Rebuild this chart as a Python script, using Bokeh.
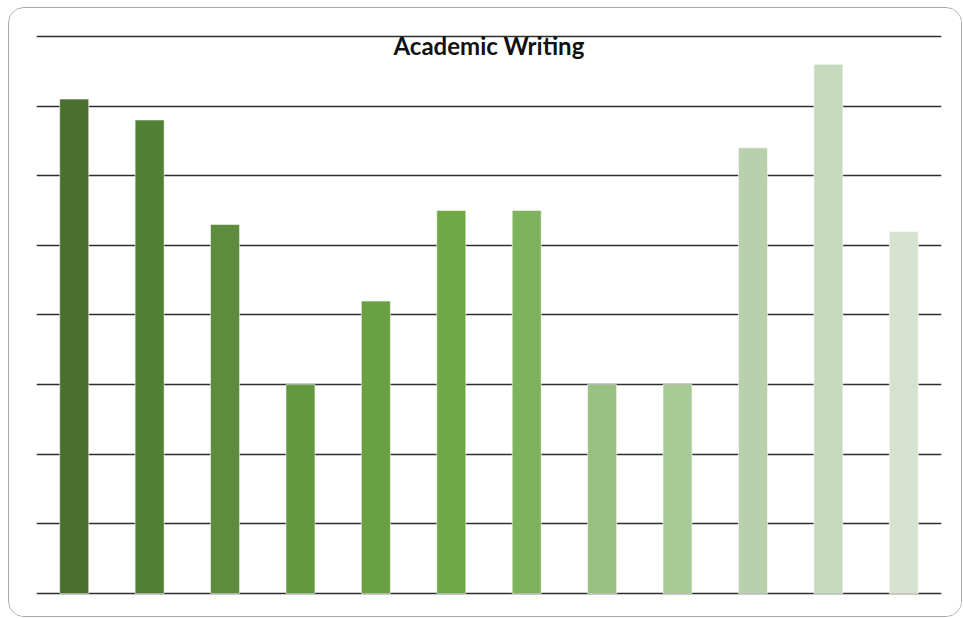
from bokeh.plotting import figure
from bokeh.models import ColumnDataSource, Range1d, SingleIntervalTicker, Label
from bokeh.embed import file_html
from bokeh.resources import INLINE

# Scores per item (percent)
items = list(range(1, 13))
scores = [71, 68, 53, 30, 42, 55, 55, 30, 30, 64, 76, 52]

# Dark-to-light green ramp, one shade per bar
palette = ["#4a702e", "#528034", "#5c8c3c", "#639840", "#6aa044", "#70a848",
           "#7eb25c", "#98c080", "#a8ca96", "#b8d0ac", "#c6dabe", "#d6e2ce"]

source = ColumnDataSource(dict(x=items, top=scores, color=palette))

p = figure(
    frame_width=905, frame_height=578,
    min_border_left=27, min_border_right=20, min_border_top=14, min_border_bottom=16,
    x_range=Range1d(0.5, 12.5), y_range=Range1d(-1, 82),
    x_axis_location=None, y_axis_location=None,
    output_backend="svg", toolbar_location=None,
    background_fill_color="white", border_fill_color="white",
)
p.outline_line_color = None
p.styles = {"margin-left": "8px", "margin-top": "7px",
            "border": "1px solid #a8a8a8", "border-radius": "16px",
            "overflow": "hidden"}

p.xgrid.visible = False
p.ygrid.ticker = SingleIntervalTicker(interval=10)
p.ygrid.grid_line_color = "#2e2e2e"
p.ygrid.grid_line_width = 1.3

p.vbar(x="x", top="top", bottom=0, width=0.385, fill_color="color",
       line_color="white", line_alpha=0.55, line_width=1, source=source)

p.add_layout(Label(x=6.5, y=78.7, text="Academic Writing", text_align="center",
                   text_baseline="alphabetic", text_font="Lato",
                   text_font_style="bold", text_font_size="24px",
                   text_color="#111111"))

open("out.html", "w").write(file_html(p, INLINE))
